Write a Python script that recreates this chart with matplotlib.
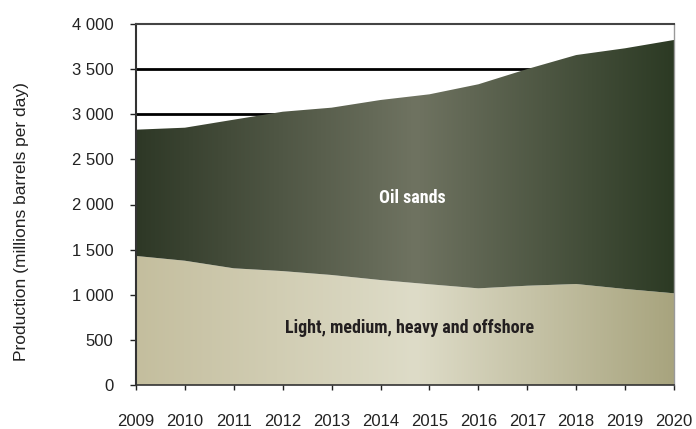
import matplotlib
matplotlib.use('Agg')
import matplotlib.pyplot as plt
from matplotlib.colors import LinearSegmentedColormap
import numpy as np

years = list(range(2009, 2021))
conventional = [1430, 1377, 1293, 1262, 1219, 1163, 1116, 1071, 1100, 1119, 1064, 1016]
oil_sands = [1399, 1474, 1647, 1766, 1854, 1995, 2105, 2261, 2401, 2537, 2667, 2807]
y_ticks = [0, 500, 1000, 1500, 2000, 2500, 3000, 3500, 4000]

conv = np.array(conventional)
total = conv + np.array(oil_sands)

plt.rcParams['font.family'] = ['Liberation Sans', 'DejaVu Sans']

fig = plt.figure(figsize=(6.96, 4.29), dpi=100)
ax = fig.add_axes([136/696, 1-385/429, 538/696, 361/429])

# horizontal gradients, lighter in the middle
cm_low = LinearSegmentedColormap.from_list('low', [(0, '#c4be9e'), (0.52, '#dedcc8'), (1, '#a8a47e')])
cm_high = LinearSegmentedColormap.from_list('high', [(0, '#2e3826'), (0.52, '#6f7361'), (1, '#2c3a24')])
grad = np.linspace(0, 1, 512).reshape(1, -1)

for lo, hi, cmap in [(np.zeros(len(years)), conv, cm_low), (conv, total, cm_high)]:
    poly = ax.fill_between(years, lo, hi, facecolor='none', edgecolor='none', lw=0)
    im = ax.imshow(grad, cmap=cmap, aspect='auto', extent=[2009, 2020, 0, 4000],
                   origin='lower', zorder=2, interpolation='bilinear')
    im.set_clip_path(poly.get_paths()[0], transform=ax.transData)

ax.set_xlim(2009, 2020)
ax.set_ylim(0, 4000)

for v in y_ticks[1:-1]:
    ax.axhline(v, color='black', lw=2, zorder=1)

ax.set_xticks(years)
ax.set_yticks(y_ticks)
ax.set_yticklabels([f'{v:,}'.replace(',', ' ') for v in y_ticks])
ax.tick_params(axis='y', direction='out', length=4.3, width=1, pad=12, labelsize=12, colors='#222222')
ax.tick_params(axis='x', direction='out', length=3.6, width=1, pad=17, labelsize=12, colors='#222222')

ax.spines['top'].set_color('#444444')
ax.spines['top'].set_linewidth(1.5)
ax.spines['right'].set_color('#999999')
ax.spines['right'].set_linewidth(1)
ax.spines['left'].set_color('#333333')
ax.spines['left'].set_linewidth(1.5)
ax.spines['bottom'].set_color('#333333')
ax.spines['bottom'].set_linewidth(1.2)
for s in ax.spines.values():
    s.set_zorder(3)

ax.set_ylabel('Production (millions barrels per day)', fontsize=12.5, color='#222222')
ax.yaxis.set_label_coords(-0.199, 0.452)

narrow = ['Roboto Condensed', 'Liberation Sans Narrow', 'DejaVu Sans']
ax.text(2014.65, 2070, 'Oil sands', color='white', fontsize=13, fontweight='bold',
        family=narrow, fontstretch='condensed', ha='center', va='center', zorder=4)
ax.text(2014.6, 630, 'Light, medium, heavy and offshore', color='#231f20', fontsize=13,
        fontweight='bold', family=narrow, fontstretch='condensed', ha='center', va='center', zorder=4)

fig.savefig('out.png', dpi=100)
